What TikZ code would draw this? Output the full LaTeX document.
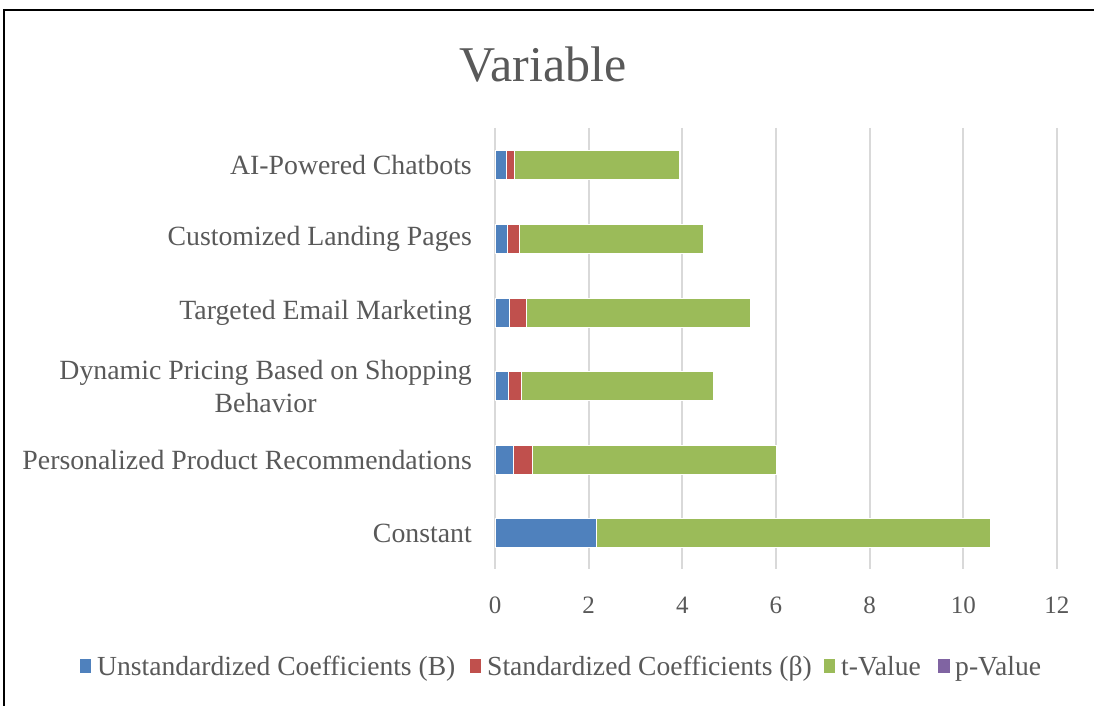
\documentclass[tikz,border=0pt]{standalone}
\usepackage{fontspec}
\setmainfont{Liberation Serif}
\definecolor{cB}{HTML}{4F81BD}
\definecolor{cR}{HTML}{C0504D}
\definecolor{cG}{HTML}{9BBB59}
\definecolor{cP}{HTML}{8064A2}
\definecolor{txt}{HTML}{595959}
\definecolor{grd}{HTML}{D9D9D9}
\tikzset{
  lbl/.style={text=txt, font=\fontsize{27.8}{33}\selectfont, inner sep=0pt, anchor=east, align=center},
  tick/.style={text=txt, font=\fontsize{25}{28}\selectfont, inner sep=0pt},
  leg/.style={text=txt, font=\fontsize{27.6}{32}\selectfont, inner sep=0pt, anchor=base west},
  gridline/.style={draw=grd, line width=2pt},
  seg/.style={draw=white, line width=0.4pt},
}
\begin{document}
\begin{tikzpicture}[x=1pt,y=-1pt]
\useasboundingbox (0,0) rectangle (1094,706);
\fill[white] (0,0) rectangle (1094,706);
\draw[line width=1.5pt] (4,706) -- (4,10) -- (1094,10);
\node[text=txt, font=\fontsize{50}{54}\selectfont, inner sep=0pt] (title) at (543,65) {Variable};
% grid and ticks
\foreach \k in {0,2,...,12}{
  \draw[gridline] ({495+46.83*\k},128) -- ({495+46.83*\k},569);
  \node[tick] (t\k) at ({495+46.83*\k},605) {\k};
}
% bars: y / end B / end beta / end t
\foreach \y/\a/\b/\c in {164.5/0.23/0.42/3.94, 239/0.26/0.51/4.44, 312.5/0.31/0.66/5.44, 386/0.29/0.56/4.65, 460/0.38/0.79/6.0, 533/2.16/2.16/10.58}{
  \fill[cB,seg] (495,\y-14.5) rectangle ({495+46.83*\a},\y+14.5);
  \fill[cR,seg] ({495+46.83*\a},\y-14.5) rectangle ({495+46.83*\b},\y+14.5);
  \fill[cG,seg] ({495+46.83*\b},\y-14.5) rectangle ({495+46.83*\c},\y+14.5);
}
% category labels
\node[lbl] (l1) at (472,164.5) {AI-Powered Chatbots};
\node[lbl] (l2) at (472,239) {Customized Landing Pages};
\node[lbl] (l3) at (472,312.5) {Targeted Email Marketing};
\node[lbl] (l4) at (472,386) {Dynamic Pricing Based on Shopping\\Behavior};
\node[lbl] (l5) at (472,460) {Personalized Product Recommendations};
\node[lbl] (l6) at (472,533) {Constant};
% legend
\fill[cB] (80,659) rectangle (91,673);
\node[leg] (g1) at (97,675) {Unstandardized Coefficients (B)};
\fill[cR] (470,659) rectangle (481,673);
\node[leg] (g2) at (487,675) {Standardized Coefficients (β)};
\fill[cG] (824,659) rectangle (835,673);
\node[leg] (g3) at (841,675) {t-Value};
\fill[cP] (938,659) rectangle (950,673);
\node[leg] (g4) at (955,675) {p-Value};
\end{tikzpicture}
\end{document}
